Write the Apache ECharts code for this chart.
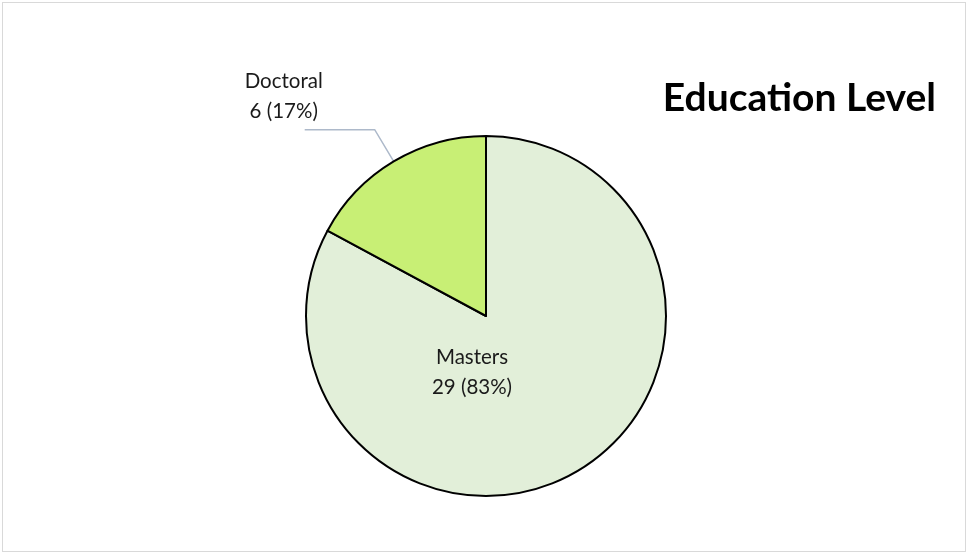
<!DOCTYPE html>
<html>
<head>
<meta charset="utf-8">
<script src="https://cdn.jsdelivr.net/npm/echarts@6/dist/echarts.min.js"></script>
<style>
html,body{margin:0;padding:0;background:#fff;}
#frame{position:absolute;left:2px;top:2px;width:964px;height:550px;border:1px solid #d9d9d9;box-sizing:border-box;}
#chart{width:970px;height:556px;}
</style>
</head>
<body>
<div id="frame"></div>
<div id="chart"></div>
<script>
var categories = ['Masters', 'Doctoral'];
var values = [29, 6];
var colors = ['#e2efd9', '#c8ef75'];
var titleText = 'Education Level';

var total = values.reduce(function (a, b) { return a + b; }, 0);
var chart = echarts.init(document.getElementById('chart'), null, {renderer: 'canvas'});
var data = categories.map(function (c, i) {
  var item = { name: c, value: values[i], itemStyle: { color: colors[i] } };
  if (i === 0) {
    item.label = { position: 'center', offset: [-14, 56] };
    item.labelLine = { show: false };
  } else {
    item.label = { offset: [29, -33] };
  }
  return item;
});
chart.setOption({
  backgroundColor: 'transparent',
  animation: false,
  title: {
    text: titleText,
    right: 29,
    top: 74,
    textStyle: { fontFamily: 'Lato', fontWeight: 'bold', fontSize: 39, color: '#000' }
  },
  series: [{
    type: 'pie',
    center: [486, 316],
    radius: [0, 180],
    startAngle: 90,
    clockwise: true,
    avoidLabelOverlap: false,
    itemStyle: { borderColor: '#000', borderWidth: 2 },
    label: {
      show: true,
      position: 'outside',
      formatter: function (p) {
        return '{t|' + p.name + '}\n{t|' + p.value + ' (' + Math.round(p.value / total * 100) + '%)}';
      },
      rich: {
        t: { fontFamily: 'Lato', fontSize: 20.5, lineHeight: 30, color: '#1a1a1a', width: 90, align: 'center' }
      },
      fontFamily: 'Lato',
      fontSize: 20.5,
      lineHeight: 30,
      color: '#1a1a1a'
    },
    labelLine: {
      show: true,
      length: 37,
      length2: 70,
      lineStyle: { color: '#adb9ca', width: 1.5 }
    },
    emphasis: { disabled: true },
    data: data
  }]
});
</script>
</body>
</html>
